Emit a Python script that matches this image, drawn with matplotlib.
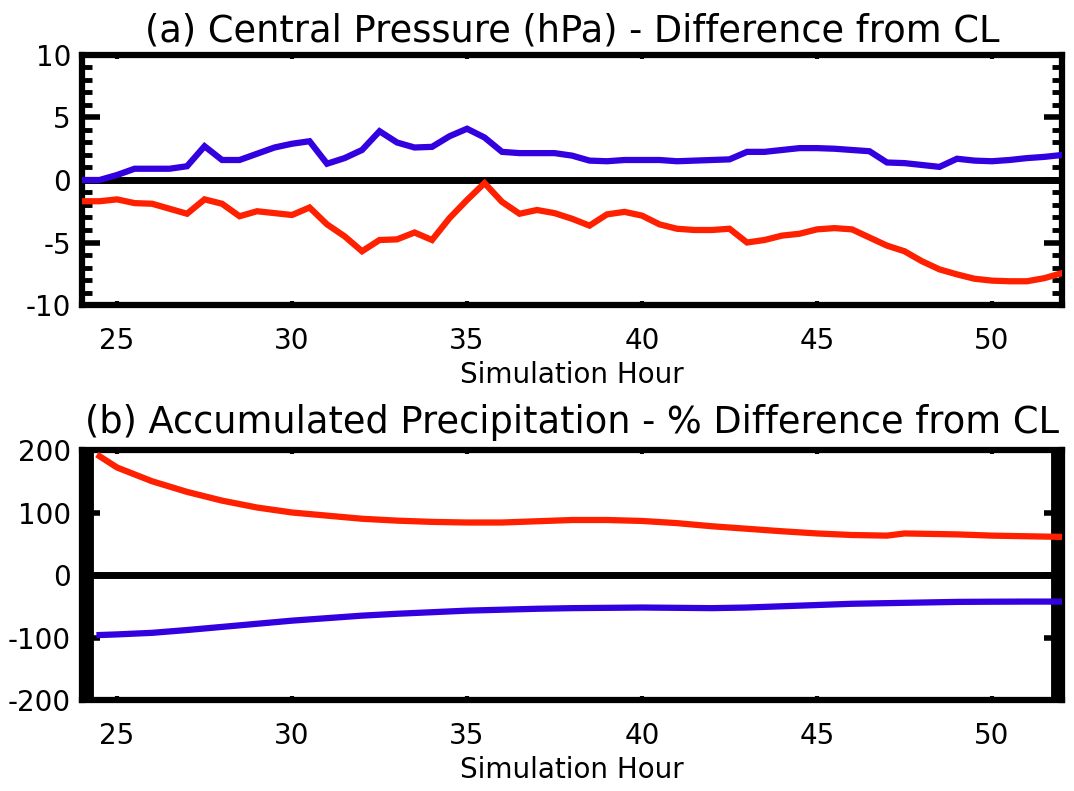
import matplotlib
matplotlib.use("Agg")
import matplotlib.pyplot as plt
from matplotlib.ticker import MultipleLocator

plt.rcParams['font.family'] = ['DejaVu Sans']

# (a) central pressure difference, every half hour from 24 to 52
hours_a = [24.0 + 0.5 * i for i in range(57)]
pres_blue = [0.0, 0.0, 0.4, 0.9, 0.9, 0.9, 1.1, 2.7, 1.6, 1.6,
             2.1, 2.6, 2.9, 3.1, 1.3, 1.75, 2.4, 3.9, 3.0, 2.6,
             2.65, 3.5, 4.1, 3.4, 2.25, 2.15, 2.15, 2.15, 1.95, 1.55,
             1.5, 1.6, 1.6, 1.6, 1.5, 1.55, 1.6, 1.65, 2.25, 2.25,
             2.4, 2.55, 2.55, 2.5, 2.4, 2.3, 1.4, 1.35, 1.2, 1.05,
             1.7, 1.55, 1.5, 1.6, 1.75, 1.85, 2.0]
pres_red = [-1.7, -1.7, -1.55, -1.85, -1.9, -2.3, -2.7, -1.55, -1.9, -2.9,
            -2.5, -2.65, -2.8, -2.2, -3.55, -4.5, -5.7, -4.8, -4.75, -4.2,
            -4.8, -3.05, -1.6, -0.25, -1.75, -2.7, -2.4, -2.65, -3.1, -3.65,
            -2.75, -2.55, -2.85, -3.55, -3.9, -4.0, -4.0, -3.9, -5.0, -4.8,
            -4.45, -4.3, -3.95, -3.85, -3.95, -4.6, -5.25, -5.7, -6.5, -7.15,
            -7.55, -7.9, -8.05, -8.1, -8.1, -7.85, -7.45]

# (b) accumulated precipitation % difference
hours_b = [24.5, 25, 26, 27, 28, 29, 30, 31, 32, 33, 34, 35, 36, 37, 38, 39,
           40, 41, 42, 43, 44, 45, 46, 47, 47.5, 48, 49, 50, 51, 52]
prec_red = [190, 172, 150, 133, 119, 108, 100, 95, 90, 87, 85, 84, 84, 86, 88, 88,
            86.5, 83, 78, 74, 70, 66.5, 64, 63, 66.5, 66, 65, 63, 62, 61]
prec_blue = [-96, -95, -92.5, -88, -83, -78, -73, -69, -65, -62, -59.5, -57, -55.5, -54, -53, -52.5,
             -52, -52.5, -53, -52, -50, -48, -46, -45, -44.5, -44, -43, -42.7, -42.5, -42.5]

ylabels_a = ["-10", "-5", "0", "5", "10"]
ylabels_b = ["-200", "-100", "0", "100", "200"]
xticks = [25, 30, 35, 40, 45, 50]

blue = "#3300e0"
red = "#ff2000"

fig = plt.figure(figsize=(10.74, 7.91), dpi=100)
ax1 = fig.add_axes([0.0764, 0.6144, 0.9124, 0.3161])
ax2 = fig.add_axes([0.0764, 0.1150, 0.9124, 0.3161])


def style(ax, yticks, ylabels, minor, minor_len, title, title_size, title_pad):
    ax.set_xlim(24, 52)
    ax.set_ylim(yticks[0], yticks[-1])
    ax.axhline(0, color="black", lw=5, zorder=1)
    for s in ax.spines.values():
        s.set_linewidth(4.5)
    ax.set_xticks(xticks)
    ax.set_xticklabels([str(t) for t in xticks])
    ax.set_yticks(yticks)
    ax.set_yticklabels(ylabels)
    ax.yaxis.set_minor_locator(MultipleLocator(minor))
    ax.tick_params(axis="x", direction="in", top=True, length=3, width=3,
                   labelsize=20, pad=16)
    ax.tick_params(axis="y", which="major", direction="in", right=True,
                   length=13, width=4, labelsize=20, pad=8)
    ax.tick_params(axis="y", which="minor", direction="in", right=True,
                   length=minor_len, width=3.5)
    ax.set_xlabel("Simulation Hour", fontsize=20, labelpad=4)
    ax.set_title(title, fontsize=title_size, pad=title_pad)


style(ax1, [-10, -5, 0, 5, 10], ylabels_a, 1, 7,
      "(a) Central Pressure (hPa) - Difference from CL", 26.5, 10)
style(ax2, [-200, -100, 0, 100, 200], ylabels_b, 2, 8,
      "(b) Accumulated Precipitation - % Difference from CL", 26.5, 12)

ax1.plot(hours_a, pres_blue, color=blue, lw=4.5, solid_joinstyle="miter", zorder=3)
ax1.plot(hours_a, pres_red, color=red, lw=4.5, solid_joinstyle="miter", zorder=3)
ax2.plot(hours_b, prec_red, color=red, lw=4.5, zorder=3)
ax2.plot(hours_b, prec_blue, color=blue, lw=4.5, zorder=3)

plt.savefig("out.png", dpi=100)
